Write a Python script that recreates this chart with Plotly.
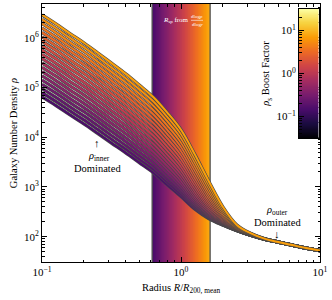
import numpy as np
import plotly.graph_objects as go
from plotly.colors import sample_colorscale

# ---------------- data ----------------
radius = [0.1, 0.126, 0.158, 0.2, 0.251, 0.316, 0.398, 0.501, 0.631, 0.794, 1.0,
          1.26, 1.58, 2.0, 2.51, 3.16, 3.98, 5.01, 6.31, 7.94, 10.0]
# inner (boost = 1) term incl. truncation
rho_inner_unit = [399900, 264100, 170500, 110000, 69390, 42750, 26330, 15480, 8884, 4329, 1913,
                  583, 154, 32.2, 5.83, 1.43, 0.29, 0.06, 0.015, 0.004, 0.001]
# outer term (common to all curves)
rho_outer = [5012, 3715, 2818, 2089, 1585, 1230, 955, 759, 603, 457, 355,
             269, 209, 166, 132, 107, 89.1, 77.6, 67.6, 58.9, 52.5]
# rho_s boost factors of the plotted curves
boost = [0.150, 0.184, 0.225, 0.277, 0.339, 0.416, 0.509, 0.625, 0.766, 0.940,
         1.15, 1.41, 1.73, 2.12, 2.60, 3.19, 3.91, 4.80, 5.88, 7.20]
# splashback band (R_sp range) and its colour (log10 boost) range
rsp_band = [0.62, 1.62]
band_logboost = [-0.85, 0.95]
# colour bar range (log10 boost)
cb_range = [-1.5, 1.5]
x_ticks = [0.1, 1, 10]
x_ticktext = ["10<sup>\u22121</sup>", "10<sup>0</sup>", "10<sup>1</sup>"]
y_ticks = [1e2, 1e3, 1e4, 1e5, 1e6]
y_ticktext = ["10<sup>2</sup>", "10<sup>3</sup>", "10<sup>4</sup>", "10<sup>5</sup>", "10<sup>6</sup>"]
cb_ticks = [-1, 0, 1]
cb_ticktext = ["10<sup>\u22121</sup>", "10<sup>0</sup>", "10<sup>1</sup>"]

FONT = "Liberation Serif"
W, H = 332, 300
ML, MR, MT, MB = 42, 12, 4, 38


def px_x(p):
    return (p - ML) / (W - ML - MR)


def px_y(p):
    return (H - MB - p) / (H - MT - MB)


def frac(lb):
    return (lb - cb_range[0]) / (cb_range[1] - cb_range[0])


fig = go.Figure()

# splashback band with colour gradient
edges = np.geomspace(rsp_band[0], rsp_band[1], 81)
zb = np.linspace(band_logboost[0], band_logboost[1], 80)
fig.add_trace(go.Heatmap(x=edges, y=[10, 1e7], z=[zb], colorscale="Inferno",
                         zmin=cb_range[0], zmax=cb_range[1], showscale=False,
                         hoverinfo="skip", xaxis="x", yaxis="y"))
for xe in rsp_band:
    fig.add_trace(go.Scatter(x=[xe, xe], y=[10, 1e7], mode="lines",
                             line=dict(color="#505050", width=1.3),
                             showlegend=False, hoverinfo="skip"))

# curves
r = np.array(radius)
ri = np.array(rho_inner_unit)
ro = np.array(rho_outer)
for b in boost:
    col = sample_colorscale("Inferno", [frac(np.log10(b))])[0]
    y = b * ri + ro
    fig.add_trace(go.Scatter(x=r, y=y, mode="lines",
                             line=dict(color="#4a4a4a", width=3.3, shape="spline", smoothing=1),
                             showlegend=False, hoverinfo="skip"))
    fig.add_trace(go.Scatter(x=r, y=y, mode="lines",
                             line=dict(color=col, width=2.0, shape="spline", smoothing=1),
                             showlegend=False, hoverinfo="skip"))

# colour bar drawn as a heatmap on its own axes
cb_edges = np.linspace(cb_range[0], cb_range[1], 241)
cb_centers = 0.5 * (cb_edges[1:] + cb_edges[:-1])
fig.add_trace(go.Heatmap(x=[0, 1], y=cb_edges, z=[[v] for v in cb_centers], colorscale="Inferno",
                         zmin=cb_range[0], zmax=cb_range[1], showscale=False,
                         hoverinfo="skip", xaxis="x2", yaxis="y2"))

minor_x = [m * 10.0 ** e for e in (-1, 0) for m in range(2, 10)]
minor_y = [m * 10.0 ** e for e in range(1, 7) for m in range(2, 10)]
minor_cb = [np.log10(m * 10.0 ** e) for e in (-2, -1, 0, 1) for m in range(2, 10)]
minor_cb = [v for v in minor_cb if cb_range[0] <= v <= cb_range[1]]

axis_common = dict(showline=True, linecolor="black", linewidth=1, mirror="ticks",
                   ticks="inside", tickcolor="black", ticklen=5, tickwidth=1,
                   showgrid=False, zeroline=False,
                   tickfont=dict(family=FONT, size=11, color="black"))

fig.update_layout(
    width=W, height=H, margin=dict(l=ML, r=MR, t=MT, b=MB),
    paper_bgcolor="white", plot_bgcolor="white",
    font=dict(family=FONT, size=11, color="black"),
    showlegend=False,
    xaxis=dict(type="log", range=[-1, 1], tickmode="array", tickvals=x_ticks, ticktext=x_ticktext,
               minor=dict(tickmode="array", tickvals=minor_x, ticks="inside", ticklen=2.5, tickcolor="black"),
               title=dict(text="Radius <i>R</i>/<i>R</i><sub>200, mean</sub>", standoff=6,
                          font=dict(family=FONT, size=10.5)),
               **axis_common),
    yaxis=dict(type="log", range=[1.49, 6.68], tickmode="array", tickvals=y_ticks, ticktext=y_ticktext,
               minor=dict(tickmode="array", tickvals=minor_y, ticks="inside", ticklen=2.5, tickcolor="black"),
               title=dict(text="Galaxy Number Density <i>\u03c1</i>", standoff=4,
                          font=dict(family=FONT, size=10.5)),
               **axis_common),
    xaxis2=dict(domain=[px_x(299), px_x(318.5)], anchor="y2", range=[0, 1], showticklabels=False,
                showline=True, linecolor="black", linewidth=1, mirror=True, ticks="",
                showgrid=False, zeroline=False),
    yaxis2=dict(domain=[px_y(138), px_y(9)], anchor="x2", range=cb_range, side="left",
                tickmode="array", tickvals=cb_ticks, ticktext=cb_ticktext,
                ticks="inside", ticklen=5, tickcolor="black", tickwidth=1,
                minor=dict(tickmode="array", tickvals=minor_cb, ticks="inside", ticklen=2.5, tickcolor="black"),
                showline=True, linecolor="black", linewidth=1, mirror=True,
                showgrid=False, zeroline=False,
                tickfont=dict(family=FONT, size=11, color="black"),
                title=dict(text="<i>\u03c1</i><sub>s</sub> Boost Factor", standoff=4,
                           font=dict(family=FONT, size=10.5))),
)

ann = []


def add_text(px, py, text, size, color="black"):
    ann.append(dict(x=px_x(px), y=px_y(py), xref="paper", yref="paper", text=text,
                    showarrow=False, xanchor="center", yanchor="middle",
                    font=dict(family=FONT, size=size, color=color)))


add_text(97, 143, "\u2191", 11)
add_text(99, 157, "<i>\u03c1</i><sub>inner</sub>", 10.5)
add_text(97, 168, "Dominated", 10.5)
add_text(277, 210, "<i>\u03c1</i><sub>outer</sub>", 10.5)
add_text(277, 222, "Dominated", 10.5)
add_text(277, 234, "\u2193", 11)
add_text(176, 20, "<i>R</i><sub>sp</sub> from", 7, "white")
add_text(197, 16.5, "dlog<i>\u03c1</i>", 5, "white")
add_text(197, 24, "dlog<i>r</i>", 5, "white")
fig.update_layout(annotations=ann)
fig.add_shape(type="line", xref="paper", yref="paper", x0=px_x(191), x1=px_x(203),
              y0=px_y(20.3), y1=px_y(20.3), line=dict(color="white", width=0.6))

fig.write_html("out.html", config={"displayModeBar": False},
               post_script="document.body.style.margin='0px';")
